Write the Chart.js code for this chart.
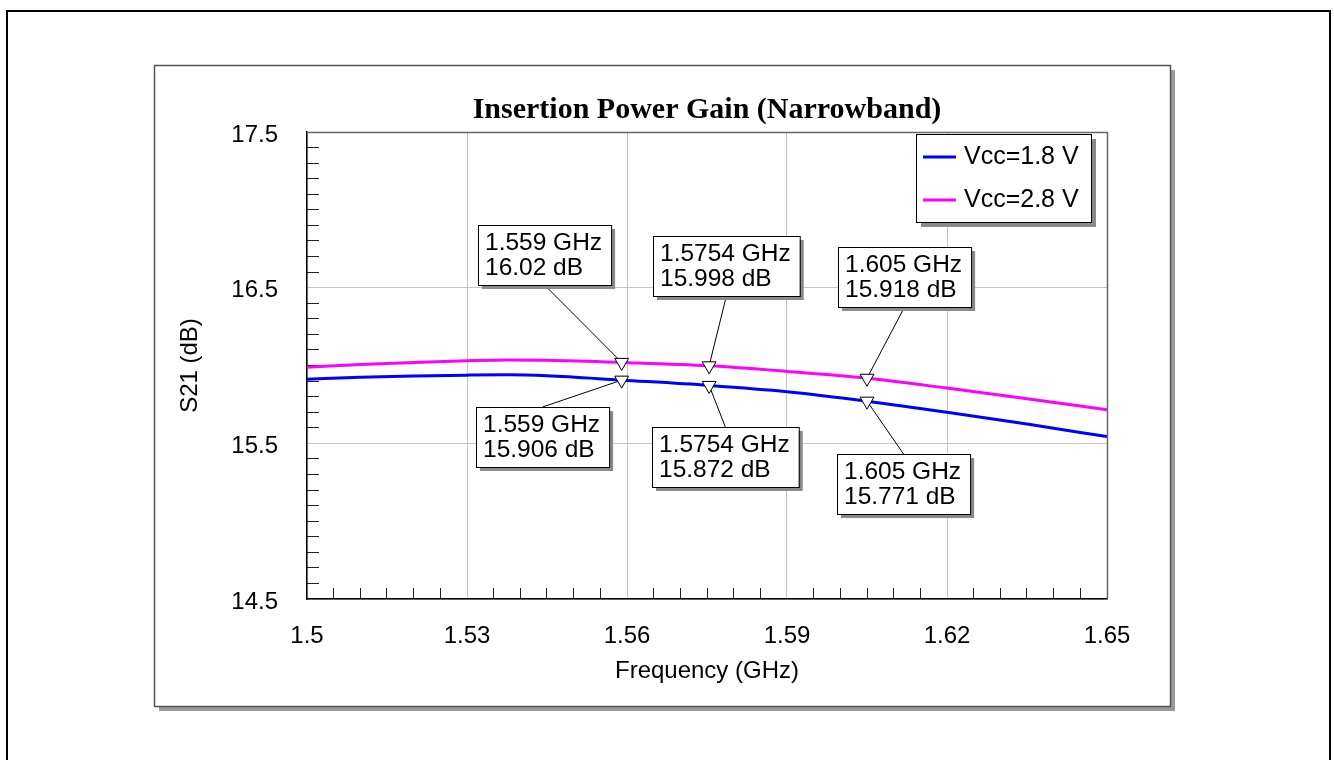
<!DOCTYPE html>
<html lang="en">
<head>
<meta charset="UTF-8">
<title>Insertion Power Gain (Narrowband)</title>
<script src="https://cdn.jsdelivr.net/npm/chart.js"></script>
<style>
    html, body { margin: 0; padding: 0; background: #fff; }
    #gainChart { display: block; }
</style>
</head>
<body>
<canvas id="gainChart" width="1334" height="760"></canvas>
<script>
    // sweep points (GHz) and S21 (dB)
    const freqGHz   = [1.5, 1.51, 1.52, 1.53, 1.5375, 1.545, 1.559, 1.5754, 1.59, 1.605, 1.62, 1.635, 1.65];
    const s21Vcc18  = [15.912, 15.925, 15.933, 15.938, 15.940, 15.934, 15.906, 15.872, 15.832, 15.771, 15.700, 15.624, 15.543];
    const s21Vcc28  = [15.989, 16.006, 16.020, 16.031, 16.036, 16.034, 16.020, 15.998, 15.962, 15.918, 15.855, 15.787, 15.715];

    // marker readouts
    const markerFreq  = [1.559, 1.5754, 1.605];
    const markerVcc18 = [15.906, 15.872, 15.771];
    const markerVcc28 = [16.02, 15.998, 15.918];

    const seriesNames = ['Vcc=1.8 V', 'Vcc=2.8 V'];
    const xTickLabels = ['1.5', '1.53', '1.56', '1.59', '1.62', '1.65'];
    const yTickLabels = ['14.5', '15.5', '16.5', '17.5'];

    const SANS = '"Liberation Sans", Arial, sans-serif';
    Chart.defaults.font.family = SANS;
    Chart.defaults.color = '#000';

    function majorLabel(list, v) {
        const hit = list.find(t => Math.abs(parseFloat(t) - v) < 1e-6);
        return hit === undefined ? '' : hit;
    }

    // box offsets from the marker point (layout only)
    const upperBoxes = [[-144, -137], [-56, -130], [-29, -131]];
    const lowerBoxes = [[-146, 27], [-57, 42], [-30, 53]];

    // page frame, panel and title
    const framePlugin = {
        id: 'frame',
        beforeDraw(chart) {
            const ctx = chart.ctx;
            const area = chart.chartArea;
            ctx.save();
            ctx.fillStyle = '#fff';
            ctx.fillRect(0, 0, chart.width, chart.height);

            ctx.strokeStyle = '#000';
            ctx.lineWidth = 2;
            ctx.strokeRect(7, 11, 1323, 780);

            // panel with drop shadow
            ctx.fillStyle = '#9a9a9a';
            ctx.fillRect(159, 70, 1016, 641);
            ctx.fillStyle = '#fff';
            ctx.fillRect(154, 65, 1016, 641);
            ctx.strokeStyle = '#555';
            ctx.lineWidth = 1.5;
            ctx.strokeRect(154.5, 65.5, 1016, 641);

            ctx.fillStyle = '#000';
            ctx.font = 'bold 30px "Liberation Serif", "Times New Roman", serif';
            ctx.textAlign = 'center';
            ctx.textBaseline = 'alphabetic';
            ctx.fillText('Insertion Power Gain (Narrowband)', (area.left + area.right) / 2, 118);
            ctx.restore();
        },
        beforeDatasetsDraw(chart) {
            // callout boxes with leader lines, drawn under the markers
            const ctx = chart.ctx;
            const xs = chart.scales.x, ys = chart.scales.y;
            ctx.save();
            ctx.font = '24.5px ' + SANS;
            const drawBox = (f, v, off, upper) => {
                const px = xs.getPixelForValue(f);
                const py = ys.getPixelForValue(v);
                const l1 = f + ' GHz';
                const l2 = v + ' dB';
                const w = Math.max(ctx.measureText(l1).width, ctx.measureText(l2).width) + 16;
                const h = 60;
                const bx = Math.round(px + off[0]);
                const by = Math.round(py + off[1]);
                const ax = bx + w / 2;
                const ay = upper ? by + h : by;
                ctx.strokeStyle = '#000';
                ctx.lineWidth = 1;
                ctx.beginPath();
                ctx.moveTo(ax, ay);
                ctx.lineTo(px, py);
                ctx.stroke();
                ctx.fillStyle = '#8a8a8a';
                ctx.fillRect(bx + 4, by + 4, w, h);
                ctx.fillStyle = '#fff';
                ctx.fillRect(bx, by, w, h);
                ctx.strokeRect(bx + 0.5, by + 0.5, w, h);
                ctx.fillStyle = '#000';
                ctx.textAlign = 'left';
                ctx.textBaseline = 'middle';
                ctx.fillText(l1, bx + 7, by + 18);
                ctx.fillText(l2, bx + 7, by + 43);
            };
            markerFreq.forEach((f, i) => {
                drawBox(f, markerVcc28[i], upperBoxes[i], true);
                drawBox(f, markerVcc18[i], lowerBoxes[i], false);
            });
            ctx.restore();
        },
        afterDatasetsDraw(chart) {
            const ctx = chart.ctx;
            const a = chart.chartArea;
            ctx.save();
            // top and right edges of plot area
            ctx.strokeStyle = '#666';
            ctx.lineWidth = 1.5;
            ctx.beginPath();
            ctx.moveTo(a.left, a.top + 0.5);
            ctx.lineTo(a.right + 0.5, a.top + 0.5);
            ctx.lineTo(a.right + 0.5, a.bottom);
            ctx.stroke();

            // legend box
            const lx = a.right - 191, ly = a.top + 2, lw = 175, lh = 88;
            ctx.fillStyle = '#8a8a8a';
            ctx.fillRect(lx + 5, ly + 5, lw, lh);
            ctx.fillStyle = '#fff';
            ctx.fillRect(lx, ly, lw, lh);
            ctx.strokeStyle = '#000';
            ctx.lineWidth = 1;
            ctx.strokeRect(lx + 0.5, ly + 0.5, lw, lh);
            ctx.font = '25px ' + SANS;
            ctx.textAlign = 'left';
            ctx.textBaseline = 'middle';
            const lineSets = chart.data.datasets.filter(d => d.isCurve);
            lineSets.forEach((d, i) => {
                const yy = ly + 23 + i * 43;
                ctx.strokeStyle = d.borderColor;
                ctx.lineWidth = 3;
                ctx.beginPath();
                ctx.moveTo(lx + 7, yy);
                ctx.lineTo(lx + 40, yy);
                ctx.stroke();
                ctx.fillStyle = '#000';
                ctx.fillText(d.label, lx + 48, yy);
            });
            ctx.restore();
        }
    };

    const toPoints = (xsArr, ysArr) => xsArr.map((x, i) => ({ x: x, y: ysArr[i] }));

    const markerStyle = {
        showLine: false,
        pointStyle: 'triangle',
        rotation: 180,
        pointRadius: 8,
        pointBackgroundColor: '#fff',
        pointBorderColor: '#000',
        pointBorderWidth: 1,
        order: 0
    };

    new Chart(document.getElementById('gainChart'), {
        type: 'line',
        data: {
            datasets: [
                Object.assign({ label: 'm18', data: toPoints(markerFreq, markerVcc18) }, markerStyle),
                Object.assign({ label: 'm28', data: toPoints(markerFreq, markerVcc28) }, markerStyle),
                {
                    label: seriesNames[0], isCurve: true,
                    data: toPoints(freqGHz, s21Vcc18),
                    borderColor: '#0000ff', borderWidth: 3,
                    pointRadius: 0, cubicInterpolationMode: 'monotone', order: 1
                },
                {
                    label: seriesNames[1], isCurve: true,
                    data: toPoints(freqGHz, s21Vcc28),
                    borderColor: '#ff00ff', borderWidth: 3,
                    pointRadius: 0, cubicInterpolationMode: 'monotone', order: 1
                }
            ]
        },
        options: {
            responsive: false,
            animation: false,
            devicePixelRatio: 1,
            events: [],
            layout: { padding: { left: 0, top: 132, right: 227, bottom: 0 } },
            plugins: {
                legend: { display: false },
                title: { display: false },
                tooltip: { enabled: false }
            },
            scales: {
                x: {
                    type: 'linear',
                    min: 1.5,
                    max: 1.65,
                    afterFit: s => { s.height = 161; },
                    ticks: {
                        stepSize: 0.005,
                        autoSkip: false,
                        maxRotation: 0,
                        padding: 34,
                        font: { size: 24 },
                        color: '#000',
                        callback: v => majorLabel(xTickLabels, v)
                    },
                    grid: {
                        tickLength: -11,
                        lineWidth: 1,
                        color: c => majorLabel(xTickLabels, c.tick.value) ? '#c4c4c4' : 'rgba(0,0,0,0)',
                        tickColor: c => majorLabel(xTickLabels, c.tick.value) ? 'rgba(0,0,0,0)' : '#222'
                    },
                    border: { color: '#000', width: 1.5 },
                    title: {
                        display: true,
                        text: 'Frequency (GHz)',
                        font: { size: 24 },
                        color: '#000',
                        padding: { top: 0, bottom: 74 }
                    }
                },
                y: {
                    min: 14.5,
                    max: 17.5,
                    afterFit: s => { s.width = 307; },
                    ticks: {
                        stepSize: 0.1,
                        autoSkip: false,
                        padding: 41,
                        labelOffset: 3,
                        font: { size: 24 },
                        color: '#000',
                        callback: v => majorLabel(yTickLabels, v)
                    },
                    grid: {
                        tickLength: -12,
                        lineWidth: 1,
                        color: c => majorLabel(yTickLabels, c.tick.value) ? '#c4c4c4' : 'rgba(0,0,0,0)',
                        tickColor: c => majorLabel(yTickLabels, c.tick.value) ? 'rgba(0,0,0,0)' : '#222'
                    },
                    border: { color: '#000', width: 1.5 },
                    title: {
                        display: true,
                        text: 'S21 (dB)',
                        font: { size: 24 },
                        color: '#000',
                        padding: { top: 176, bottom: 0 }
                    }
                }
            }
        },
        plugins: [framePlugin]
    });
</script>
</body>
</html>
